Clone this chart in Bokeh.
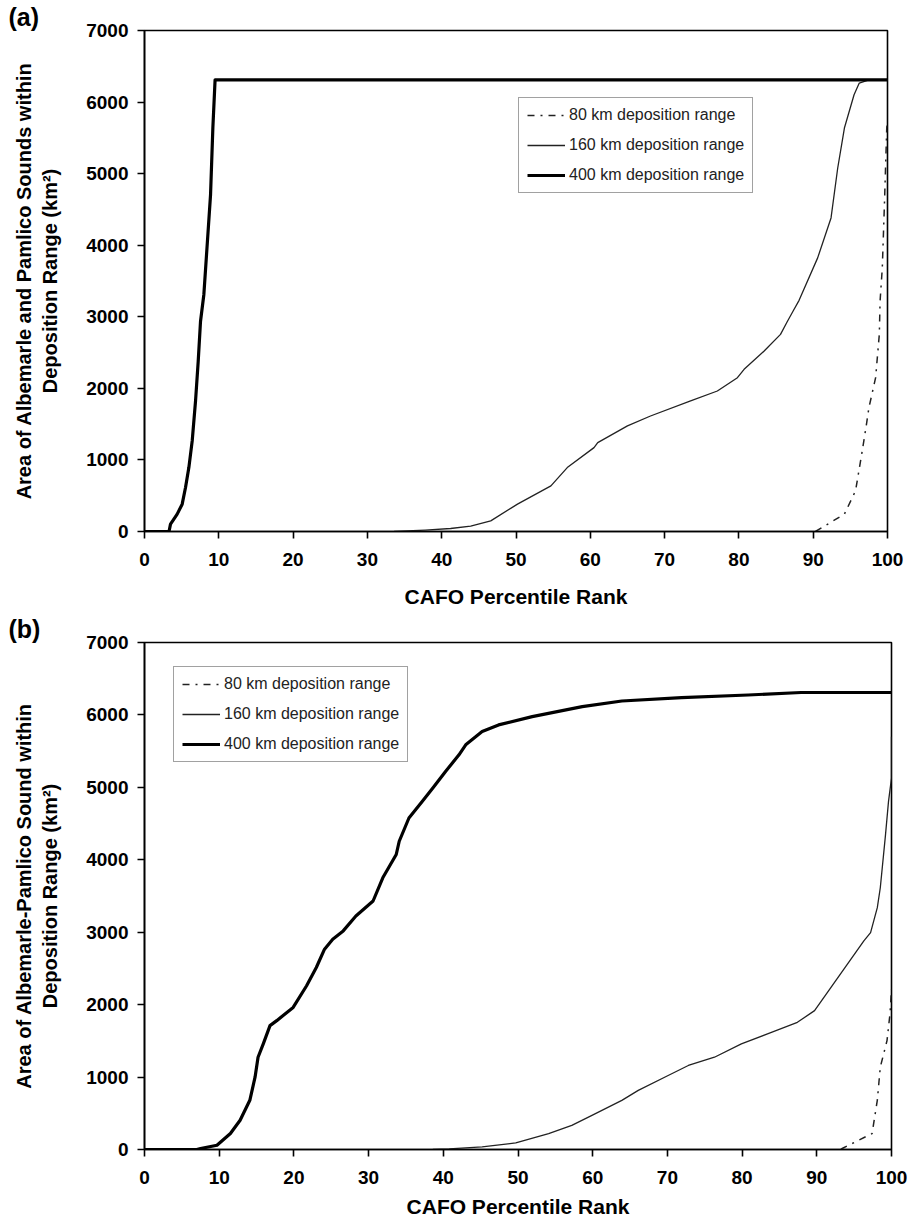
from bokeh.plotting import figure
from bokeh.layouts import column
from bokeh.models import Range1d, Legend, LegendItem, FixedTicker, Title
from bokeh.embed import file_html
from bokeh.resources import INLINE

# ---------------- data ----------------
# Panel (a)
a_x400 = [0, 3.3, 3.5, 4.4, 5.07, 5.52, 5.97, 6.42, 6.87, 7.23, 7.54, 7.99, 8.44, 8.89, 9.2, 9.5, 100]
a_y400 = [0, 0, 103, 243, 382, 614, 893, 1266, 1825, 2380, 2938, 3312, 4010, 4708, 5637, 6310, 6310]

a_x160 = [33.6, 37.8, 41.2, 43.9, 46.6, 50.2, 54.7, 56.9, 60.5, 61.0, 65.0, 68.1, 73.5, 77.1, 79.8,
          80.7, 83.4, 85.6, 86.5, 87.3, 88.1, 90.6, 92.4, 93.3, 94.2, 95.5, 96.2, 97.3, 100]
a_y160 = [0, 20, 42, 75, 149, 382, 638, 893, 1172, 1242, 1475, 1614, 1824, 1963, 2149,
          2266, 2521, 2754, 2930, 3080, 3230, 3823, 4381, 5079, 5637, 6103, 6265, 6303, 6310]

a_x80 = [90.3, 94.2, 95.7, 96.6, 97.1, 97.5, 98.4, 98.9, 99.0, 99.3, 99.6, 99.9, 100]
a_y80 = [0, 243, 568, 1126, 1451, 1730, 2149, 2754, 3219, 3684, 4614, 5637, 5750]

# Panel (b)
b_x400 = [0, 7.0, 7.5, 9.7, 11.5, 12.8, 14.1, 14.8, 15.2, 15.9, 16.8, 17.7, 19.9, 21.7, 23.0, 24.1,
          25.2, 26.6, 28.3, 30.6, 31.9, 33.7, 34.1, 35.4, 37.2, 38.6, 40.3, 42.1, 43.0, 45.2, 47.4,
          51.9, 58.6, 63.9, 71.9, 80.8, 87.9, 100]
b_y400 = [0, 0, 14, 59, 220, 403, 679, 999, 1274, 1459, 1710, 1779, 1962, 2261, 2513, 2766,
          2904, 3018, 3224, 3431, 3751, 4073, 4256, 4577, 4807, 4990, 5220, 5449, 5587, 5770, 5862,
          5977, 6114, 6192, 6238, 6275, 6310, 6310]

b_x160 = [38.6, 40.8, 45.2, 49.7, 54.1, 57.2, 59.9, 63.9, 66.1, 70.1, 72.8, 76.3, 79.9, 83.4, 87.4,
          89.7, 91.9, 94.1, 96.3, 97.2, 98.1, 98.5, 99.2, 99.6, 100, 100]
b_y160 = [0, 8, 36, 91, 220, 334, 472, 679, 816, 1022, 1160, 1274, 1459, 1596, 1756,
          1917, 2238, 2559, 2880, 2994, 3339, 3614, 4348, 4807, 5128, 5700]

b_x80 = [93.2, 93.4, 97.4, 98.1, 98.5, 99.4, 99.8, 100]
b_y80 = [0, 14, 220, 679, 1137, 1504, 1875, 2215]

x_ticks = [0, 10, 20, 30, 40, 50, 60, 70, 80, 90, 100]
y_ticks = [0, 1000, 2000, 3000, 4000, 5000, 6000, 7000]
series_labels = ["80 km deposition range", "160 km deposition range", "400 km deposition range"]
panel_tags = ["(a)", "(b)"]
x_title = "CAFO Percentile Rank"
y_title_a = "Area of Albemarle and Pamlico Sounds within\nDeposition Range (km\u00b2)"
y_title_b = "Area of Albemarle-Pamlico Sound within\nDeposition Range (km\u00b2)"

FONT = "Liberation Sans"


def make_panel(tag, y_title, d80, d160, d400, width, height, borders, legend_loc, xt_standoff):
    bl, br, bt, bb = borders
    p = figure(width=width, height=height, x_range=Range1d(0, 100), y_range=Range1d(0, 7000),
               output_backend="svg", toolbar_location=None,
               min_border_left=bl, min_border_right=br, min_border_top=bt, min_border_bottom=bb)
    p.background_fill_color = "white"
    p.border_fill_color = "white"
    p.grid.visible = False
    p.outline_line_color = "black"
    p.outline_line_width = 1.6

    for ax, ticks in ((p.xaxis[0], x_ticks), (p.yaxis[0], y_ticks)):
        ax.ticker = FixedTicker(ticks=ticks)
        ax.axis_line_color = "black"
        ax.axis_line_width = 1.6
        ax.major_tick_line_color = "black"
        ax.major_tick_line_width = 1.6
        ax.major_tick_in = 0
        ax.major_tick_out = 7
        ax.minor_tick_line_color = None
        ax.major_label_text_font = FONT
        ax.major_label_text_font_style = "bold"
        ax.major_label_text_font_size = "19px"
        ax.major_label_text_color = "black"
        ax.axis_label_text_font = FONT
        ax.axis_label_text_font_style = "bold"
        ax.axis_label_text_color = "black"

    p.xaxis[0].axis_label = x_title
    p.xaxis[0].axis_label_text_font_size = "21px"
    p.xaxis[0].major_label_standoff = 14
    p.xaxis[0].axis_label_standoff = xt_standoff
    p.yaxis[0].axis_label = y_title
    p.yaxis[0].axis_label_text_font_size = "20px"
    p.yaxis[0].major_label_standoff = 9
    p.yaxis[0].axis_label_standoff = 22

    r80 = p.line(d80[0], d80[1], line_color="#222222", line_width=1.5, line_dash="7 6 2 6")
    r160 = p.line(d160[0], d160[1], line_color="#222222", line_width=1.3, line_join="round")
    r400 = p.line(d400[0], d400[1], line_color="black", line_width=3.2, line_join="round")

    legend = Legend(items=[LegendItem(label=series_labels[0], renderers=[r80]),
                           LegendItem(label=series_labels[1], renderers=[r160]),
                           LegendItem(label=series_labels[2], renderers=[r400])],
                    location=legend_loc)
    legend.label_text_font = FONT
    legend.label_text_font_size = "16px"
    legend.label_text_color = "#222222"
    legend.glyph_width = 38
    legend.glyph_height = 18
    legend.label_height = 18
    legend.label_standoff = 4
    legend.spacing = 12
    legend.padding = 8
    legend.margin = 0
    legend.border_line_color = "#444444"
    legend.border_line_width = 1.2
    legend.background_fill_color = "white"
    legend.background_fill_alpha = 1
    p.add_layout(legend)

    t = Title(text=tag, align="left", offset=-136, standoff=0,
              text_font=FONT, text_font_style="bold", text_font_size="25px",
              text_color="black")
    p.add_layout(t, "above")
    return p


pa = make_panel(panel_tags[0], y_title_a, (a_x80, a_y80), (a_x160, a_y160), (a_x400, a_y400),
                width=906, height=612, borders=(144, 19, 29, 81), legend_loc=(374, 338), xt_standoff=16)
pb = make_panel(panel_tags[1], y_title_b, (b_x80, b_y80), (b_x160, b_y160), (b_x400, b_y400),
                width=910, height=612, borders=(144, 16, 29, 75), legend_loc=(29, 387), xt_standoff=8)

layout = column(pa, pb, spacing=0)
open("out.html", "w").write(file_html(layout, INLINE))
